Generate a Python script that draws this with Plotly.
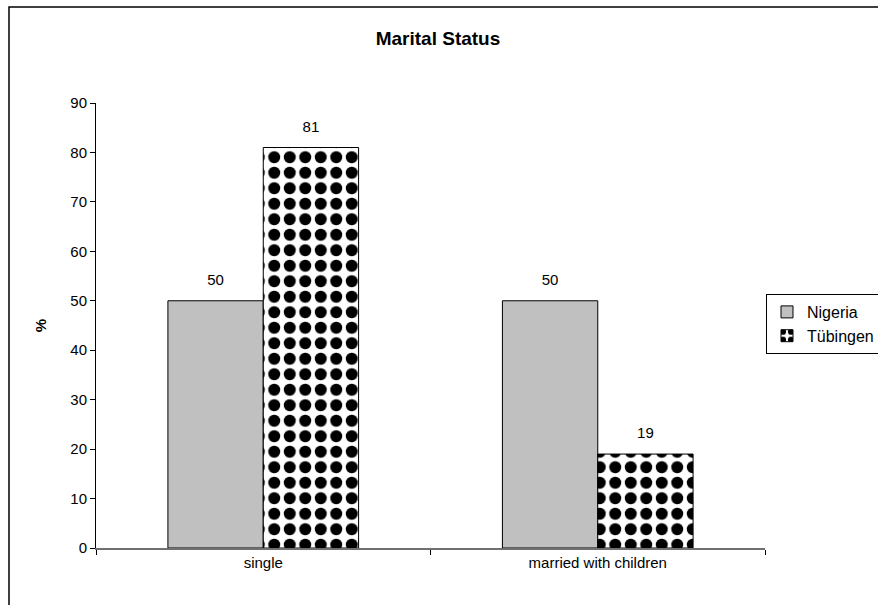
import plotly.graph_objects as go

categories = ["single", "married with children"]
nigeria = [50, 50]
tuebingen = [81, 19]
series_names = ["Nigeria", "Tübingen"]
title_text = "Marital Status"
y_title = "%"

FONT = "Arial, 'Liberation Sans', sans-serif"
W, H = 910, 605

fig = go.Figure()
fig.add_trace(go.Bar(
    name=series_names[0], x=categories, y=nigeria, offsetgroup="a",
    marker=dict(color="#C0C0C0", line=dict(color="black", width=1)),
    hoverinfo="y",
))
fig.add_trace(go.Bar(
    name=series_names[1], x=categories, y=tuebingen, offsetgroup="b",
    marker=dict(color="white", line=dict(color="black", width=1),
                pattern=dict(shape=".", fgcolor="black", bgcolor="white",
                             size=15.5, solidity=0.47, fillmode="replace")),
    hoverinfo="y",
))
# value labels
for vals, grp in ((nigeria, "a"), (tuebingen, "b")):
    fig.add_trace(go.Scatter(
        x=categories, y=vals, mode="markers+text", text=[str(v) for v in vals],
        textposition="top center", offsetgroup=grp, showlegend=False,
        marker=dict(size=18, opacity=0), cliponaxis=False, hoverinfo="skip",
        textfont=dict(size=15, color="black", family=FONT),
    ))

fig.update_layout(
    width=W, height=H,
    margin=dict(l=96, r=W - 96 - 669, t=103, b=H - 103 - 445, autoexpand=False),
    paper_bgcolor="white", plot_bgcolor="white",
    font=dict(family=FONT, size=15, color="black"),
    barmode="group", bargap=0.43, bargroupgap=0,
    scattermode="group", scattergap=0.43,
    title=dict(text="<b>" + title_text + "</b>", x=438 / W, xref="container", xanchor="center",
               y=1 - 38 / H, yanchor="middle", font=dict(size=19, family=FONT, color="black")),
    showlegend=True,
    legend=dict(x=(766 - 96) / 669, xanchor="left", y=(548 - 294) / 445, yanchor="top",
                bordercolor="black", borderwidth=1, bgcolor="white",
                font=dict(size=16, family=FONT, color="black"),
                tracegroupgap=0, itemwidth=30),
    shapes=[dict(type="rect", xref="paper", yref="paper",
                 x0=(9 - 96) / 669, x1=(900 - 96) / 669, y0=-0.2, y1=(548 - 7) / 445,
                 line=dict(color="black", width=1.5), fillcolor="rgba(0,0,0,0)", layer="below")],
)
fig.update_yaxes(range=[0, 90], dtick=10, showline=True, linecolor="black", linewidth=1,
                 ticks="outside", ticklen=5, tickcolor="black", showgrid=False, zeroline=False,
                 tickfont=dict(size=15),
                 title=dict(text="<b>" + y_title + "</b>", standoff=20, font=dict(size=15)))
fig.update_xaxes(showline=True, linecolor="#707070", linewidth=1.5, ticks="outside",
                 tickson="boundaries", ticklen=5, tickcolor="black", showgrid=False,
                 tickfont=dict(size=15))

fig.write_html("out.html", config={"displayModeBar": False},
               post_script="document.body.style.margin='0';document.body.style.overflow='hidden';")
